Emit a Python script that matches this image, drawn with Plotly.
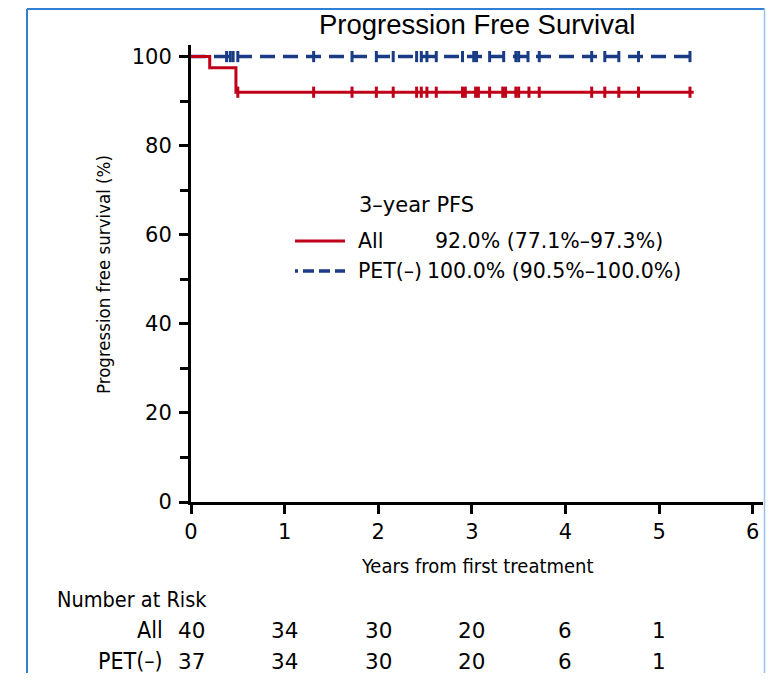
import plotly.graph_objects as go

# ---------------- data ----------------
all_times = [0, 0.20, 0.48, 5.37]
all_surv = [100, 97.5, 92.0, 92.0]
all_censor = [0.50, 1.31, 1.72, 1.98, 2.16, 2.41, 2.46, 2.52, 2.62, 2.90, 2.93,
              3.04, 3.07, 3.19, 3.33, 3.36, 3.47, 3.50, 3.61, 3.72, 4.28, 4.42,
              4.57, 4.78, 5.33]
pet_times = [0, 5.37]
pet_surv = [100, 100]
pet_censor = [0.38, 0.42, 0.45, 0.50, 1.31, 1.72, 1.98, 2.16, 2.41, 2.46, 2.52,
              2.62, 2.90, 3.02, 3.05, 3.19, 3.34, 3.47, 3.50, 3.60, 3.72, 4.28,
              4.42, 4.57, 4.78, 5.33]

risk_times = [0, 1, 2, 3, 4, 5]
risk_all = [40, 34, 30, 20, 6, 1]
risk_pet = [37, 34, 30, 20, 6, 1]
x_ticks = [0, 1, 2, 3, 4, 5, 6]
y_ticks = [0, 20, 40, 60, 80, 100]

RED = "#c00018"
BLUE = "#1a3c86"
NARROW = "DejaVu Sans Condensed, Liberation Sans Narrow, sans-serif"
WIDE = "DejaVu Sans, Verdana, sans-serif"

OFF = 8  # page body margin
W, H = 774 - 2 * OFF, 681 - 2 * OFF
# plot area in reference (window) pixels
RL, RR, RT, RB = 191, 763, 45, 502


def px(x):
    return (x - RL) / (RR - RL)


def py(y):
    return (RB - y) / (RB - RT)


def step_value(times, surv, t):
    v = surv[0]
    for ti, si in zip(times, surv):
        if ti <= t:
            v = si
    return v


fig = go.Figure()
fig.add_trace(go.Scatter(x=pet_times, y=pet_surv, mode="lines", line_shape="hv",
                         line=dict(color=BLUE, width=3.5, dash="15px,8px"),
                         showlegend=False, hoverinfo="skip"))
fig.add_trace(go.Scatter(x=all_times, y=all_surv, mode="lines", line_shape="hv",
                         line=dict(color=RED, width=3), showlegend=False))
fig.add_trace(go.Scatter(x=all_censor,
                         y=[step_value(all_times, all_surv, t) for t in all_censor],
                         mode="markers",
                         marker=dict(symbol="line-ns", size=8,
                                     line=dict(color=RED, width=3)),
                         showlegend=False))
fig.add_trace(go.Scatter(x=pet_censor,
                         y=[step_value(pet_times, pet_surv, t) for t in pet_censor],
                         mode="markers",
                         marker=dict(symbol="line-ns", size=8,
                                     line=dict(color=BLUE, width=3)),
                         showlegend=False))

annotations = []


def add_text(text, x, y, xanchor="left", font=WIDE, size=20.5, xref="paper", **kw):
    annotations.append(dict(text=text, x=x, y=y, xref=xref, yref="paper",
                            xanchor=xanchor, yanchor="middle", showarrow=False,
                            font=dict(family=font, size=size, color="black"), **kw))


add_text("Progression Free Survival", px(477), py(25), xanchor="center",
         font="Liberation Sans, Arial, sans-serif", size=27.5)
add_text("Progression free survival (%)", px(103), py(275), xanchor="center",
         font=NARROW, size=18.5, textangle=-90)
add_text("Years from first treatment", px(477), py(566), xanchor="center",
         font=NARROW, size=20)
add_text("3\u2013year PFS", px(357), py(205), size=21)
add_text("All", px(356), py(241))
add_text("92.0% (77.1%\u201397.3%)", px(433), py(241))
add_text("PET(\u2013)", px(356), py(271))
add_text("100.0% (90.5%\u2013100.0%)", px(425), py(271))

add_text("Number at Risk", px(55), py(599), font=NARROW, size=21.5)
add_text("All", px(165), py(630), xanchor="right", font=NARROW, size=23)
add_text("PET(\u2013)", px(165), py(661), xanchor="right", font=NARROW, size=23)
for t, a, p in zip(risk_times, risk_all, risk_pet):
    add_text(str(a), t, py(630), xanchor="center", xref="x", size=21.5)
    add_text(str(p), t, py(661), xanchor="center", xref="x", size=21.5)

FRAME_TOP = OFF + 1
FRAME_RIGHT = 774 - OFF - 1.5
shapes = [
    dict(type="line", xref="paper", yref="paper", x0=px(295), x1=px(345),
         y0=py(241), y1=py(241), line=dict(color=RED, width=3)),
    dict(type="line", xref="paper", yref="paper", x0=px(295), x1=px(345),
         y0=py(271), y1=py(271),
         line=dict(color=BLUE, width=3.5, dash="3px,5px,11px,5px,11px,5px,11px")),
    # frame
    dict(type="line", xref="paper", yref="paper", x0=px(27), x1=px(27),
         y0=py(FRAME_TOP), y1=py(720), line=dict(color="#2f7fd4", width=2)),
    dict(type="line", xref="paper", yref="paper", x0=px(27), x1=px(FRAME_RIGHT),
         y0=py(FRAME_TOP), y1=py(FRAME_TOP), line=dict(color="#2f7fd4", width=2)),
    dict(type="line", xref="paper", yref="paper", x0=px(FRAME_RIGHT), x1=px(FRAME_RIGHT),
         y0=py(FRAME_TOP), y1=py(720), line=dict(color="#9cc2ea", width=1.5)),
]

fig.update_layout(
    width=W, height=H,
    margin=dict(l=RL - OFF, r=W - (RR - OFF), t=RT - OFF, b=H - (RB - OFF), pad=0),
    plot_bgcolor="white", paper_bgcolor="white",
    annotations=annotations, shapes=shapes,
    xaxis=dict(range=[0, 6.11], tickvals=x_ticks, ticks="outside", ticklen=9,
               tickwidth=2.5, tickcolor="black", showline=True, linewidth=3,
               linecolor="black", showgrid=False, zeroline=False,
               tickfont=dict(family=WIDE, size=21, color="black")),
    yaxis=dict(range=[0, 102.6], tickvals=y_ticks, ticks="outside", ticklen=9,
               tickwidth=2.5, tickcolor="black", showline=True, linewidth=3,
               linecolor="black", showgrid=False, zeroline=False,
               ticklabelstandoff=3,
               tickfont=dict(family=WIDE, size=21, color="black"),
               minor=dict(dtick=10, tick0=0, ticks="outside", ticklen=8,
                          tickwidth=2.5, tickcolor="black", showgrid=False)),
)

fig.write_html("out.html")
